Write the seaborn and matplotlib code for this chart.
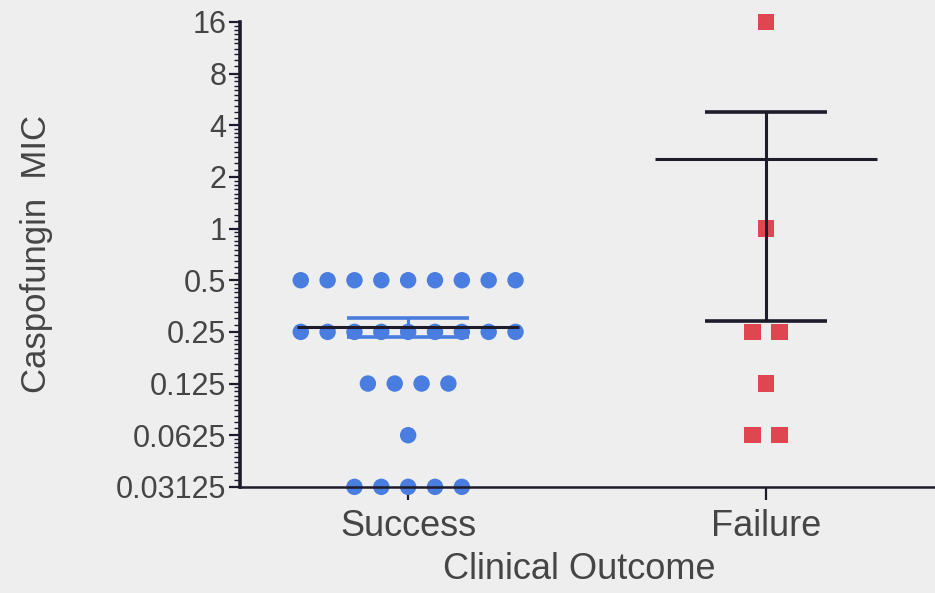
import numpy as np
import pandas as pd
import matplotlib
matplotlib.use("Agg")
import matplotlib.pyplot as plt
from matplotlib.ticker import LogLocator, NullFormatter
import seaborn as sns

# values (MIC per patient)
outcomes = ["Success", "Failure"]
success_mic = [0.5] * 9 + [0.25] * 9 + [0.125] * 4 + [0.0625] * 1 + [0.03125] * 5
failure_mic = [16, 1, 0.25, 0.25, 0.125, 0.0625, 0.0625]
y_ticks = [0.03125, 0.0625, 0.125, 0.25, 0.5, 1, 2, 4, 8, 16]
y_tick_labels = ["0.03125", "0.0625", "0.125", "0.25", "0.5", "1", "2", "4", "8", "16"]

colors = {"Success": "#4a7de0", "Failure": "#e0464f"}
line_color = "#1e1b2c"
text_color = "#454545"
bg = "#eeeeee"

df = pd.DataFrame({
    "outcome": ["Success"] * len(success_mic) + ["Failure"] * len(failure_mic),
    "mic": success_mic + failure_mic,
})
df["pos"] = df["outcome"].map({o: i for i, o in enumerate(outcomes)})
# spread identical values side by side, like a column scatter
grp = df.groupby(["outcome", "mic"])
df["rank"] = grp.cumcount()
df["n"] = grp["mic"].transform("size")
spacing = 0.075
df["x"] = df["pos"] + (df["rank"] - (df["n"] - 1) / 2) * spacing

sns.set_style("ticks")
plt.rcParams["font.family"] = ["Liberation Sans", "DejaVu Sans"]

fig = plt.figure(figsize=(9.35, 5.93), dpi=100, facecolor=bg)
ax = fig.add_axes([0.257, 0.179, 0.743, 0.784])
ax.set_facecolor(bg)

sns.scatterplot(data=df, x="x", y="mic", hue="outcome", style="outcome",
                markers={"Success": "o", "Failure": "s"}, palette=colors,
                s=140, linewidth=0, legend=False, clip_on=False, zorder=2, ax=ax)

# mean and SEM per group
stats = df.groupby("outcome")["mic"].agg(["mean", "sem"])
for i, o in enumerate(outcomes):
    m, e = stats.loc[o, "mean"], stats.loc[o, "sem"]
    err_c = colors[o] if o == "Success" else line_color
    ax.vlines(i, m - e, m + e, color=err_c, lw=2.2, zorder=3)
    ax.hlines([m - e, m + e], i - 0.17, i + 0.17, color=err_c, lw=2.6, zorder=3)
    ax.hlines(m, i - 0.31, i + 0.31, color=line_color, lw=2.2, zorder=4)

ax.set_yscale("log", base=2)
ax.set_ylim(0.03125, 16)
ax.set_yticks(y_ticks)
ax.set_yticklabels(y_tick_labels)
ax.yaxis.set_minor_locator(LogLocator(base=2, subs=np.arange(1.0, 2.0, 0.1), numticks=200))
ax.yaxis.set_minor_formatter(NullFormatter())

ax.set_xlim(-0.469, 1.472)
ax.set_xticks(range(len(outcomes)))
ax.set_xticklabels(outcomes)

ax.tick_params(axis="y", which="major", length=8, width=1.6, color=line_color,
               labelsize=22, labelcolor=text_color, pad=2)
ax.tick_params(axis="y", which="minor", length=4, width=1.0, color=line_color)
ax.tick_params(axis="x", length=9, width=1.6, color=line_color,
               labelsize=26, labelcolor=text_color, pad=7)

for side in ["top", "right"]:
    ax.spines[side].set_visible(False)
ax.spines["left"].set_linewidth(2.6)
ax.spines["left"].set_color(line_color)
ax.spines["bottom"].set_linewidth(1.8)
ax.spines["bottom"].set_color(line_color)

ax.set_xlabel("Clinical Outcome", fontsize=26, color=text_color)
ax.xaxis.set_label_coords(0.488, -0.14)
ax.set_ylabel("Caspofungin  MIC", fontsize=25, color=text_color)
ax.yaxis.set_label_coords(-0.27, 0.5)

fig.savefig("out.png", dpi=100, facecolor=bg)
